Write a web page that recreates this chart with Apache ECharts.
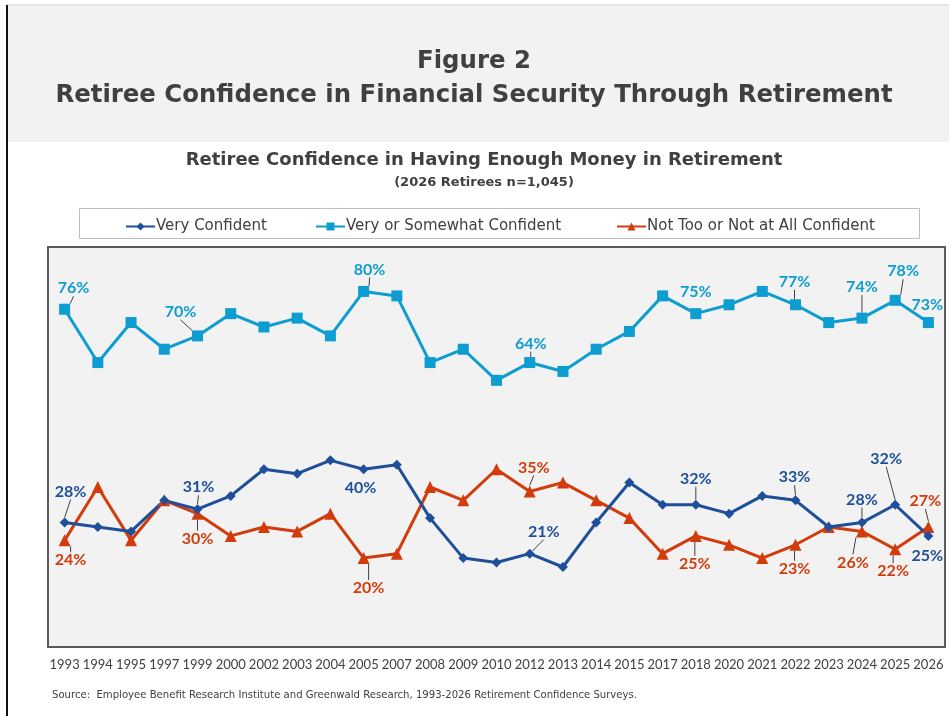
<!DOCTYPE html>
<html>
<head>
<meta charset="utf-8">
<script src="https://cdn.jsdelivr.net/npm/echarts@6/dist/echarts.min.js"></script>
<style>
  html, body { margin: 0; padding: 0; background: #fff; }
  #chart { width: 949px; height: 716px; }
</style>
</head>
<body>
<div id="chart"></div>
<script>
// survey years (x categories)
const years = ['1993', '1994', '1995', '1997', '1999', '2000', '2002', '2003', '2004', '2005', '2007', '2008', '2009', '2010',
  '2012', '2013', '2014', '2015', '2017', '2018', '2020', '2021', '2022', '2023', '2024', '2025', '2026']

// percent of retirees
const veryConfident = [28, 27, 26, 33, 31, 34, 40, 39, 42, 40, 41, 29, 20, 19, 21, 18, 28, 37, 32, 32, 30, 34, 33, 27, 28, 32, 25]
const somewhatConfident = [76, 64, 73, 67, 70, 75, 72, 74, 70, 80, 79, 64, 67, 60, 64, 62, 67, 71, 79, 75, 77, 80, 77, 73, 74, 78, 73]
const notConfident = [24, 36, 24, 33, 30, 25, 27, 26, 30, 20, 21, 36, 33, 40, 35, 37, 33, 29, 21, 25, 23, 20, 23, 27, 26, 22, 27]

// which years carry a value label
const veryLabeled = ['1993', '1999', '2005', '2012', '2018', '2022', '2024', '2025', '2026']
const somewhatLabeled = ['1993', '1999', '2005', '2012', '2018', '2022', '2024', '2025', '2026']
const notLabeled = ['1993', '1999', '2005', '2012', '2018', '2022', '2024', '2025', '2026']

const seriesNames = ['Very Confident', 'Very or Somewhat Confident', 'Not Too or Not at All Confident']
const colors = ['#1e4f9a', '#0d9dd0', '#d23c0c']

// label placement: year -> [dx, dy, leader line]
const labelPos = [
  { '1993': [6, -31, 1], '1999': [1, -22, 1], '2005': [-3, 19, 0], '2012': [14, -22, 1], '2018': [0, -26, 1],
    '2022': [-1, -23, 1], '2024': [0, -23, 1], '2025': [-9, -46, 1], '2026': [-1, 20, 0] },
  { '1993': [9, -21, 1], '1999': [-17, -24, 1], '2005': [6, -22, 1], '2012': [1, -19, 1], '2018': [0, -22, 0],
    '2022': [-1, -23, 1], '2024': [0, -31, 1], '2025': [8, -29, 1], '2026': [-1, -18, 0] },
  { '1993': [6, 20, 1], '1999': [0, 25, 1], '2005': [5, 30, 1], '2012': [4, -24, 1], '2018': [-1, 28, 1],
    '2022': [-1, 24, 1], '2024': [-9, 31, 1], '2025': [-2, 22, 1], '2026': [-3, -26, 1] }
]

const font = 'Lato, "Open Sans", sans-serif'
const wideFont = '"DejaVu Sans", Verdana, sans-serif'
const textColor = '#404040'

function buildData(values, labeled, si) {
  return values.map((v, i) => {
    const show = labeled.indexOf(years[i]) >= 0
    const pos = labelPos[si][years[i]]
    return {
      value: v,
      label: { show: show },
      labelLine: { show: !!(pos && pos[2]) }
    }
  })
}

function makeSeries(si, values, labeled, symbol, size) {
  return {
    name: seriesNames[si],
    type: 'line',
    data: buildData(values, labeled, si),
    symbol: symbol,
    symbolSize: size,
    showAllSymbol: true,
    color: colors[si],
    lineStyle: { color: colors[si], width: 3 },
    itemStyle: { color: colors[si] },
    label: {
      show: false,
      position: 'inside',
      formatter: '{c}%',
      color: colors[si],
      fontFamily: font,
      fontWeight: 'bold',
      fontSize: 16
    },
    labelLine: {
      show: false,
      lineStyle: { color: '#404040', width: 1 }
    },
    labelLayout: function (params) {
      const pos = labelPos[si][years[params.dataIndex]]
      if (!pos) return {}
      return { dx: pos[0], dy: pos[1] }
    },
    emphasis: { disabled: true }
  }
}

function makeLegend(si, left) {
  return {
    data: [seriesNames[si]],
    left: left,
    top: 214,
    itemWidth: 29,
    itemHeight: 10,
    textStyle: { fontFamily: wideFont, fontSize: 15, color: textColor, padding: [0, 0, 0, -4] }
  }
}

const chart = echarts.init(document.getElementById('chart'))

chart.setOption({
  animation: false,
  backgroundColor: '#ffffff',
  graphic: [
    // header band and page border
    { type: 'rect', shape: { x: 7, y: 6, width: 942, height: 136 }, style: { fill: '#f2f2f2' }, z: -10 },
    { type: 'line', shape: { x1: 6, y1: 5, x2: 949, y2: 5 }, style: { stroke: '#c8c8c8', lineWidth: 1 } },
    { type: 'line', shape: { x1: 7, y1: 5, x2: 7, y2: 716 }, style: { stroke: '#111', lineWidth: 2 } },
    {
      type: 'text', x: 474, y: 62,
      style: { text: 'Figure 2', fontFamily: wideFont, fontWeight: 'bold', fontSize: 24.4, fill: textColor, align: 'center', verticalAlign: 'middle' }
    },
    {
      type: 'text', x: 474, y: 96,
      style: { text: 'Retiree Confidence in Financial Security Through Retirement', fontFamily: wideFont, fontWeight: 'bold', fontSize: 24.4, fill: textColor, align: 'center', verticalAlign: 'middle' }
    },
    {
      type: 'text', x: 484, y: 160,
      style: { text: 'Retiree Confidence in Having Enough Money in Retirement', fontFamily: wideFont, fontWeight: 'bold', fontSize: 18, fill: textColor, align: 'center', verticalAlign: 'middle' }
    },
    {
      type: 'text', x: 484, y: 183,
      style: { text: '(2026 Retirees n=1,045)', fontFamily: wideFont, fontWeight: 'bold', fontSize: 13, fill: textColor, align: 'center', verticalAlign: 'middle' }
    },
    // legend box
    { type: 'rect', shape: { x: 79.5, y: 208.5, width: 840, height: 30 }, style: { fill: '#fff', stroke: '#bfbfbf', lineWidth: 1 }, z: -5 },
    {
      type: 'text', x: 52, y: 695,
      style: { text: 'Source:  Employee Benefit Research Institute and Greenwald Research, 1993-2026 Retirement Confidence Surveys.', fontFamily: wideFont, fontSize: 10.1, fill: textColor, verticalAlign: 'middle' }
    }
  ],
  legend: [makeLegend(0, 120), makeLegend(1, 310), makeLegend(2, 611)],
  grid: {
    left: 48,
    right: 4,
    top: 247,
    bottom: 69,
    show: true,
    backgroundColor: '#f2f2f2',
    borderColor: '#5a5a5a',
    borderWidth: 2
  },
  xAxis: {
    type: 'category',
    data: years,
    boundaryGap: true,
    axisLine: { show: false },
    axisTick: { show: false },
    splitLine: { show: false },
    axisLabel: { interval: 0, color: textColor, fontFamily: font, fontSize: 13, margin: 11 }
  },
  yAxis: {
    type: 'value',
    min: 0,
    max: 90,
    show: false,
    splitLine: { show: false }
  },
  series: [
    makeSeries(1, somewhatConfident, somewhatLabeled, 'rect', 11),
    makeSeries(2, notConfident, notLabeled, 'triangle', 12),
    makeSeries(0, veryConfident, veryLabeled, 'diamond', 10)
  ]
})
</script>
</body>
</html>
